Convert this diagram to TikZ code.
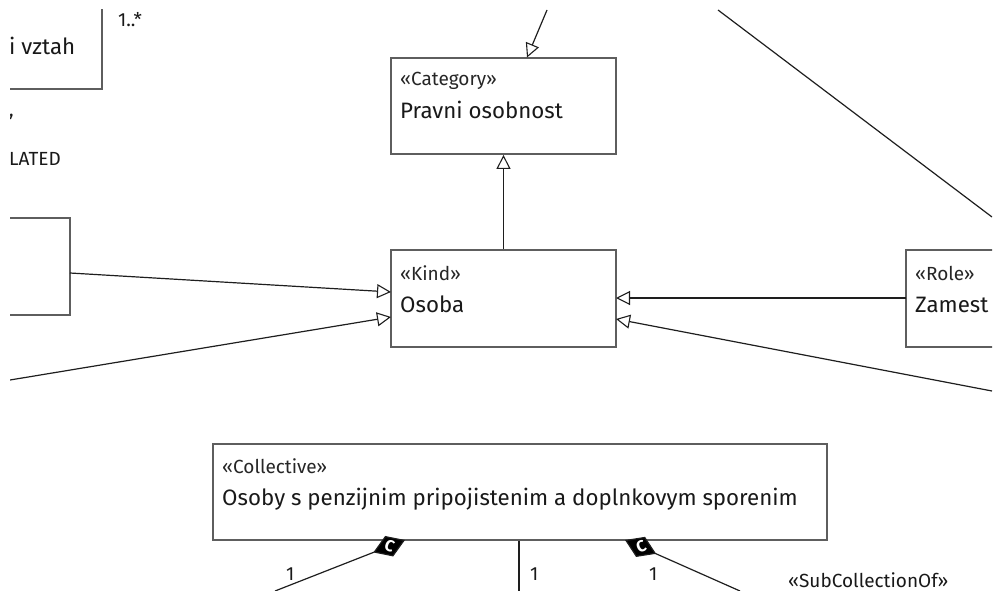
\documentclass[tikz,border=0pt]{standalone}
\usepackage{fontspec}
\setmainfont{Fira Sans}
\usetikzlibrary{arrows.meta,shapes.geometric}
\definecolor{boxline}{HTML}{5E5E5E}
\definecolor{conn}{HTML}{1E1E1E}
\tikzset{
  umlbox/.style={draw=boxline,line width=1.8pt,fill=white},
  stereo/.style={anchor=base west,inner sep=0pt,font=\fontsize{19}{21}\selectfont,text=black!85},
  cname/.style={anchor=base west,inner sep=0pt,font=\fontsize{22.3}{25}\selectfont,text=black!90},
  mult/.style={anchor=base west,inner sep=0pt,font=\fontsize{19}{21}\selectfont,text=black!90},
  conline/.style={draw=conn,line width=1.2pt},
  gen/.style={conline,-{Triangle[open,length=14pt,width=14pt,line width=1.1pt]}},
  comp/.style={conline,-{Diamond[length=34pt,width=22pt,fill=black]}},
  ctag/.style={inner sep=0pt,font=\fontsize{16}{16}\selectfont\bfseries,text=white}
}
\begin{document}
\begin{tikzpicture}[x=1pt,y=-1pt]
\useasboundingbox (0,0) rectangle (995,591);
\begin{scope}
\clip (10,10) rectangle (992,591);

% class boxes
\draw[umlbox] (-40,-20) rectangle (102,89);
\node[cname] (tlname) at (9,55) {i vztah};
\node[mult] (tlmult) at (118,27) {1..*};
\node[mult] (tick) at (9,117) {,};
\node[mult] (lated) at (9,165) {LATED};

\draw[umlbox] (-40,218) rectangle (70,315);
\coordinate (lbox) at (70,273);

\node[umlbox,minimum width=225pt,minimum height=96pt,inner sep=0pt] (cat) at (503.5,106) {};
\node[stereo] at (400,86) {«Category»};
\node[cname] at (400,118) {Pravni osobnost};

\node[umlbox,minimum width=225pt,minimum height=97pt,inner sep=0pt] (osoba) at (503.5,298.5) {};
\node[stereo] at (400,280) {«Kind»};
\node[cname] at (400,312) {Osoba};

\draw[umlbox] (906,250) rectangle (1050,347);
\coordinate (role) at (906,298);
\node[stereo] at (915,280) {«Role»};
\node[cname] at (915,312) {Zamest};

\node[umlbox,minimum width=614pt,minimum height=96pt,inner sep=0pt] (coll) at (520,492) {};
\node[stereo] at (222,473) {«Collective»};
\node[cname] at (222,505) {Osoby s penzijnim pripojistenim a doplnkovym sporenim};

% loose ends of connectors running off the sheet
\coordinate (topin) at (547,10);
\coordinate (diagA) at (718,10);
\coordinate (diagB) at (992,217);
\coordinate (leftin) at (10,380);
\coordinate (rightin) at (992,391);
\coordinate (botL) at (275,591);
\coordinate (botM) at (519,591);
\coordinate (botR) at (740,591);

% generalizations
\draw[gen] (topin) -- (527,57.5);
\draw[gen] (osoba.north) -- (cat.south);
\draw[gen] (lbox) -- (391,292);
\draw[gen] (leftin) -- (391,317);
\draw[gen] (role) -- (616,298);
\draw[gen] (rightin) -- (616,319);
\draw[conline] (diagA) -- (diagB);

% collective memberships
\draw[comp] (botL) -- (405,540);
\node[ctag,rotate=-20.5] (c1) at (389.5,546) {C};
\draw[conline] (coll.south -| botM) -- (botM);
\draw[comp] (botR) -- (625,540);
\node[ctag,rotate=23.5] (c2) at (641,547) {C};

\node[mult] at (286,580) {1};
\node[mult] at (530,580) {1};
\node[mult] at (649,580) {1};
\node[mult] at (788,587) {«SubCollectionOf»};
\end{scope}
\end{tikzpicture}
\end{document}
